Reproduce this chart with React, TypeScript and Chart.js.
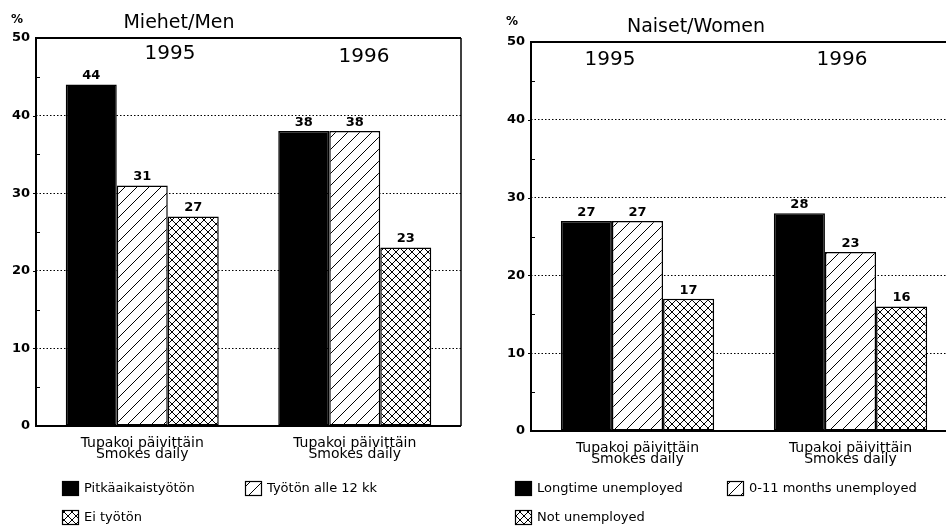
import React, { useEffect, useRef } from 'react';
import { Chart, registerables } from 'chart.js';

Chart.register(...registerables);

// ---------- data ----------
const categories = [
  ['Tupakoi päivittäin', 'Smokes daily'],
  ['Tupakoi päivittäin', 'Smokes daily'],
];
const years = ['1995', '1996'];
const yTickValues = [0, 10, 20, 30, 40, 50];

const menLongtime = [44, 38];
const menShortTerm = [31, 38];
const menNotUnemployed = [27, 23];

const womenLongtime = [27, 28];
const womenShortTerm = [27, 23];
const womenNotUnemployed = [17, 16];

const menSeriesLabels = ['Pitkäaikaistyötön', 'Työtön alle 12 kk', 'Ei työtön'];
const womenSeriesLabels = ['Longtime unemployed', '0-11 months unemployed', 'Not unemployed'];
const menTitle = 'Miehet/Men';
const womenTitle = 'Naiset/Women';
const unitLabel = '%';

const FONT = '"DejaVu Sans", "Liberation Sans", sans-serif';
const patternKinds = ['solid', 'hatch', 'cross'];

function makePattern(ctx: CanvasRenderingContext2D, kind: string): any {
  if (kind === 'solid') return '#000000';
  const s = kind === 'hatch' ? 12 : 8;
  const c = document.createElement('canvas');
  c.width = s;
  c.height = s;
  const g = c.getContext('2d')!;
  g.fillStyle = '#ffffff';
  g.fillRect(0, 0, s, s);
  g.strokeStyle = '#000000';
  g.lineWidth = 1;
  g.beginPath();
  g.moveTo(-s / 2, s / 2); g.lineTo(s / 2, -s / 2);
  g.moveTo(0, s); g.lineTo(s, 0);
  g.moveTo(s / 2, s * 1.5); g.lineTo(s * 1.5, s / 2);
  if (kind === 'cross') {
    g.moveTo(-s / 2, s / 2); g.lineTo(s / 2, s * 1.5);
    g.moveTo(0, 0); g.lineTo(s, s);
    g.moveTo(s / 2, -s / 2); g.lineTo(s * 1.5, s / 2);
  }
  g.stroke();
  return ctx.createPattern(c, 'repeat');
}

type PanelProps = {
  title: string;
  seriesLabels: string[];
  series: number[][];
  left: number;
  width: number;
  plot: { left: number; top: number; right: number; bottom: number };
  titlePos: [number, number];
  pctPos: [number, number];
  yearPos: [number, number][];
  legendPos: [number, number][];
  rightBorder: boolean;
};

const HEIGHT = 529;

function Panel(p: PanelProps) {
  const ref = useRef<HTMLCanvasElement>(null);
  useEffect(() => {
    const canvas = ref.current!;
    const ctx = canvas.getContext('2d')!;
    const fills = patternKinds.map((k) => makePattern(ctx, k));

    const overlay = {
      id: 'overlay',
      afterDatasetsDraw(chart: any) {
        const c = chart.ctx;
        const a = chart.chartArea;
        const y = chart.scales.y;
        c.save();
        c.fillStyle = '#000';
        c.font = `bold 13px ${FONT}`;
        c.textAlign = 'center';
        c.textBaseline = 'bottom';
        chart.data.datasets.forEach((ds: any, i: number) => {
          chart.getDatasetMeta(i).data.forEach((el: any, j: number) => {
            c.fillText(String(ds.data[j]), el.x, el.y - 2);
          });
        });
        c.strokeStyle = '#000';
        c.lineWidth = 2;
        c.beginPath();
        c.moveTo(a.left, a.top);
        c.lineTo(a.right, a.top);
        c.moveTo(a.left, a.top - 1);
        c.lineTo(a.left, a.bottom + 1);
        c.moveTo(a.left, a.bottom);
        c.lineTo(a.right, a.bottom);
        c.stroke();
        if (p.rightBorder) {
          c.lineWidth = 1.5;
          c.beginPath();
          c.moveTo(a.right, a.top);
          c.lineTo(a.right, a.bottom);
          c.stroke();
        }
        c.lineWidth = 1;
        c.beginPath();
        for (let v = 5; v < 50; v += 10) {
          const py = Math.round(y.getPixelForValue(v)) + 0.5;
          c.moveTo(a.left, py);
          c.lineTo(a.left + 4, py);
        }
        for (const v of yTickValues) {
          if (v === 0 || v === 50) continue;
          const py = Math.round(y.getPixelForValue(v)) + 0.5;
          c.moveTo(a.left - 3, py);
          c.lineTo(a.left, py);
        }
        c.stroke();
        c.font = `20px ${FONT}`;
        c.textBaseline = 'middle';
        years.forEach((yr, i) => c.fillText(yr, p.yearPos[i][0], p.yearPos[i][1]));
        c.font = `19px ${FONT}`;
        c.fillText(p.title, p.titlePos[0], p.titlePos[1]);
        c.font = `bold 12px ${FONT}`;
        c.fillText(unitLabel, p.pctPos[0], p.pctPos[1]);
        c.font = `13px ${FONT}`;
        c.textAlign = 'left';
        chart.data.datasets.forEach((ds: any, i: number) => {
          const [lx, ly] = p.legendPos[i];
          c.fillStyle = ds.backgroundColor;
          c.fillRect(lx, ly, 17, 15);
          c.strokeStyle = '#000';
          c.lineWidth = 1.2;
          c.strokeRect(lx + 0.5, ly + 0.5, 16, 14);
          c.fillStyle = '#000';
          c.fillText(ds.label, lx + 22, ly + 8);
        });
        c.restore();
      },
    };

    const chart = new Chart(canvas, {
      type: 'bar',
      data: {
        labels: categories,
        datasets: p.series.map((d, i) => ({
          label: p.seriesLabels[i],
          data: d,
          backgroundColor: fills[i],
          borderColor: '#000',
          borderWidth: 1.5,
          borderSkipped: false,
          barPercentage: 1,
          categoryPercentage: 0.72,
        })),
      },
      options: {
        responsive: false,
        animation: false,
        devicePixelRatio: 1,
        events: [],
        layout: {
          padding: { top: p.plot.top, right: p.width - p.plot.right, left: 0, bottom: 0 },
        },
        plugins: {
          legend: { display: false },
          title: { display: false },
          tooltip: { enabled: false },
        },
        scales: {
          x: {
            grid: { display: false },
            border: { display: false },
            ticks: {
              color: '#000',
              font: { family: FONT, size: 14, lineHeight: 0.85 },
              padding: 3,
              maxRotation: 0,
              autoSkip: false,
            },
            afterFit: (s: any) => { s.height = HEIGHT - p.plot.bottom; },
          },
          y: {
            min: 0,
            max: 50,
            afterBuildTicks: (s: any) => { s.ticks = yTickValues.map((v) => ({ value: v })); },
            ticks: {
              color: '#000',
              font: { family: FONT, size: 13, weight: 'bold' },
              padding: 6,
            },
            grid: {
              drawTicks: false,
              lineWidth: 1,
              color: (c: any) =>
                c.tick && c.tick.value > 0 && c.tick.value < 50 ? '#000' : 'rgba(0,0,0,0)',
            },
            border: { display: false, dash: [1.5, 2] },
            afterFit: (s: any) => { s.width = p.plot.left; },
          },
        },
      },
      plugins: [overlay],
    } as any);
    return () => chart.destroy();
  }, []);
  return (
    <canvas
      ref={ref}
      width={p.width}
      height={HEIGHT}
      style={{ position: 'absolute', left: p.left, top: 0, width: p.width, height: HEIGHT }}
    />
  );
}

export default function App() {
  return (
    <div
      style={{
        position: 'fixed',
        left: 0,
        top: 0,
        width: 946,
        height: 529,
        overflow: 'hidden',
        background: '#fff',
      }}
    >
      <Panel
        title={menTitle}
        seriesLabels={menSeriesLabels}
        series={[menLongtime, menShortTerm, menNotUnemployed]}
        left={0}
        width={470}
        plot={{ left: 36, top: 38, right: 461, bottom: 426 }}
        titlePos={[179, 23]}
        pctPos={[17, 20]}
        yearPos={[[170, 54], [364, 57]]}
        legendPos={[[62, 481], [245, 481], [62, 510]]}
        rightBorder={true}
      />
      <Panel
        title={womenTitle}
        seriesLabels={womenSeriesLabels}
        series={[womenLongtime, womenShortTerm, womenNotUnemployed]}
        left={480}
        width={520}
        plot={{ left: 51, top: 42, right: 477, bottom: 431 }}
        titlePos={[216, 27]}
        pctPos={[32, 22]}
        yearPos={[[130, 60], [362, 60]]}
        legendPos={[[35, 481], [247, 481], [35, 510]]}
        rightBorder={false}
      />
    </div>
  );
}
